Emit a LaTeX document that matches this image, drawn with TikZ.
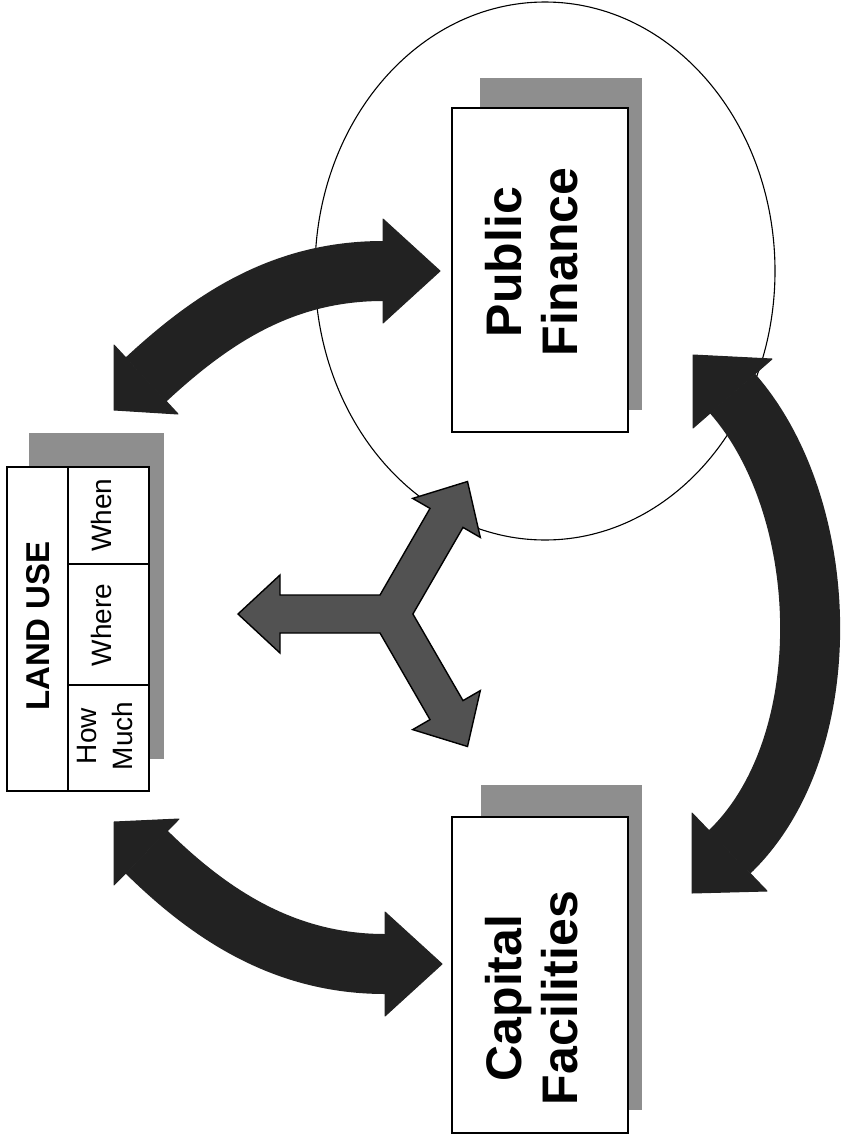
\documentclass[tikz,border=0pt]{standalone}
\usepackage{fontspec}
\setmainfont{Liberation Sans}
\usetikzlibrary{shapes.geometric}
\definecolor{arrowdark}{HTML}{222222}
\definecolor{ygray}{HTML}{525252}
\definecolor{shadowgray}{HTML}{8E8E8E}
\begin{document}
\begin{tikzpicture}[x=1pt,y=-1pt,
  shadowbox/.style={draw=none, fill=shadowgray, inner sep=0pt},
  whitebox/.style={draw=black, line width=1.6pt, fill=white, inner sep=0pt},
  bigtext/.style={rotate=90, align=center, inner sep=0pt,
    font=\fontsize{50}{56}\selectfont\bfseries},
  lutitle/.style={rotate=90, inner sep=0pt, font=\fontsize{33}{38}\selectfont\bfseries},
  celltext/.style={rotate=90, align=center, inner sep=0pt, font=\fontsize{28}{36}\selectfont},
  fatshaft/.style={draw=arrowdark, line width=60pt},
  headfill/.style={fill=arrowdark, draw=arrowdark, line width=1pt, line join=round},
  yarrow/.style={fill=ygray, draw=black, line width=1.4pt, line join=miter}
]
\useasboundingbox (0,0) rectangle (844,1148);
\fill[white] (0,0) rectangle (844,1148);

% ellipse around Public Finance
\node[draw=black, line width=1.1pt, ellipse, minimum width=460pt, minimum height=538pt, inner sep=0pt] (zone) at (545,271) {};

% Land use box
\node[shadowbox, minimum width=135pt, minimum height=326pt] (lushadow) at (96.5,596) {};
\node[whitebox, minimum width=142pt, minimum height=324pt] (lu) at (78,629) {};
\draw[line width=1.6pt] (68,467) -- (68,791);
\draw[line width=1.6pt] (68,564) -- (149,564);
\draw[line width=1.6pt] (68,685) -- (149,685);
\node[lutitle] (lutext) at (38,626) {LAND USE};
\node[celltext] (when) at (101,515) {When};
\node[celltext] (where) at (101,625) {Where};
\node[celltext] (howmuch) at (105,736) {How\\Much};

% Public Finance box
\node[shadowbox, minimum width=162pt, minimum height=332pt] (pfshadow) at (561,244) {};
\node[whitebox, minimum width=176pt, minimum height=324pt] (pf) at (540,270) {};
\node[bigtext] (pftext) at (532,262) {Public\\Finance};

% Capital Facilities box
\node[shadowbox, minimum width=161pt, minimum height=325pt] (cfshadow) at (561.5,947.5) {};
\node[whitebox, minimum width=176pt, minimum height=316pt] (cf) at (540,975) {};
\node[bigtext] (cftext) at (532,998) {Capital\\Facilities};

% Arrow: Land use <-> Public Finance
\coordinate (a1s) at (146,379.5);
\coordinate (a1e) at (383,271);
\draw[fatshaft] (a1s) .. controls (212,318.3) and (283,271) .. (a1e);
\draw[headfill] (114,345) -- (178,414) -- (114,410) -- cycle;
\draw[headfill] (383,219) -- (440,271) -- (383,323) -- cycle;

% Arrow: Land use <-> Capital Facilities
\coordinate (a2s) at (146.5,852);
\coordinate (a2e) at (385,964);
\draw[fatshaft] (a2s) .. controls (210.7,915.2) and (285,964) .. (a2e);
\draw[headfill] (114,885) -- (179,819) -- (114,822) -- cycle;
\draw[headfill] (385,912) -- (442,964) -- (385,1016) -- cycle;

% Arrow: Public Finance <-> Capital Facilities
\coordinate (a3s) at (732.5,393.5);
\coordinate (a3e) at (729.5,852);
\draw[fatshaft] (a3s) .. controls (833,508) and (840,746) .. (a3e);
\draw[headfill] (693,428) -- (772,359) -- (693,355) -- cycle;
\draw[headfill] (692,813) -- (767,891) -- (692,893) -- cycle;

% Three-way arrow
\coordinate (ycenter) at (391,614);
\draw[yarrow] (380,595) -- (280,595) -- (280,575) -- (238,614) -- (280,653) -- (280,633)
  -- (380,633) -- (430,719.6) -- (412.7,729.6) -- (467.5,746.5) -- (480.3,690.6)
  -- (463,700.6) -- (412.9,614) -- (463,527.4) -- (480.3,537.4) -- (467.5,481.5)
  -- (412.7,498.4) -- (430,508.4) -- cycle;
\end{tikzpicture}
\end{document}
